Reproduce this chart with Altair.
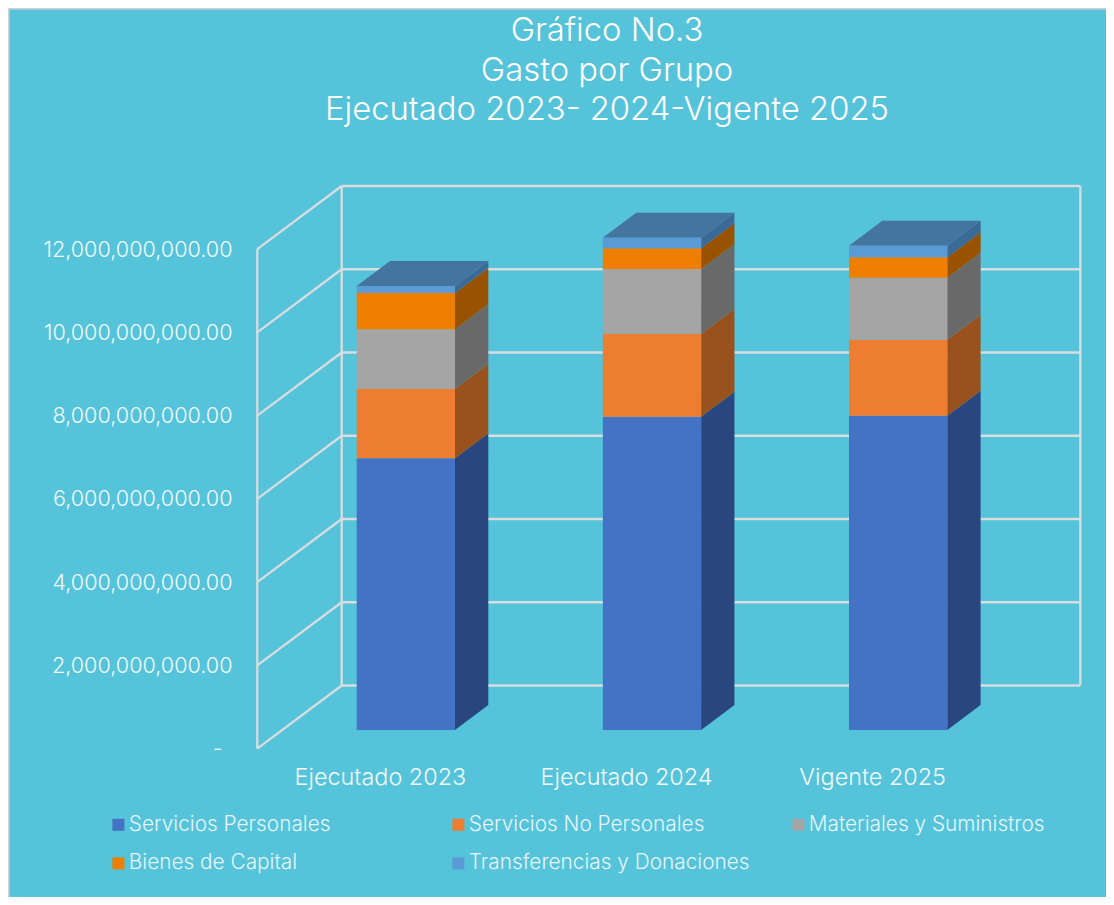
import altair as alt
import pandas as pd

# Data
categories = ["Ejecutado 2023", "Ejecutado 2024", "Vigente 2025"]
series = ["Servicios Personales", "Servicios No Personales", "Materiales y Suministros",
          "Bienes de Capital", "Transferencias y Donaciones"]
servicios_personales = [6.527e9, 7.527e9, 7.551e9]
servicios_no_personales = [1.665e9, 1.994e9, 1.826e9]
materiales = [1.434e9, 1.554e9, 1.489e9]
bienes = [0.872e9, 0.497e9, 0.490e9]
transferencias = [0.168e9, 0.255e9, 0.279e9]
all_values = [servicios_personales, servicios_no_personales, materiales, bienes, transferencias]
ticks = [0, 2e9, 4e9, 6e9, 8e9, 10e9, 12e9]

front_colors = ["#4472C4", "#ED7D31", "#A5A5A5", "#EF7F00", "#5B9BD5"]
side_colors = ["#2A467F", "#99521D", "#696969", "#995200", "#3B6A96"]
top_color = "#44759F"
bg = "#55C3D9"
grid = "#D8DDE0"
font = "Inter"

# Chart geometry
W, H = 1098, 889
PX_PER_UNIT = 41.625 / 1e9
ORIGIN_Y = 748.7          # page y of value 0 on the front axis
CENTER0, STEP = 405.85, 246.15
ux = lambda px: px / STEP
uy = lambda px: px / PX_PER_UNIT
x_domain = [ux(8 - CENTER0), ux(8 + W - CENTER0)]
y_domain = [uy(ORIGIN_Y - (8 + H)), uy(ORIGIN_Y - 8)]
half_w = ux(49.15)
dx, dy = ux(33.3), uy(25)
base = uy(18.7)
wall_left, wall_back, wall_right = ux(257.3 - CENTER0), ux(341.7 - CENTER0), ux(1080.3 - CENTER0)
wall_dy = uy(63.2)

x_scale = alt.Scale(domain=x_domain, nice=False, zero=False)
y_scale = alt.Scale(domain=y_domain, nice=False, zero=False)

# Faces
front, side, top = [], [], []
for i, cat in enumerate(categories):
    y0 = base
    for s, vals, sc in zip(series, all_values, side_colors):
        y1 = y0 + vals[i]
        front.append(dict(serie=s, x=i - half_w, x2=i + half_w, y=y0, y2=y1))
        key = f"{cat}-{s}"
        side.append(dict(key=key, col=sc, x=i + half_w, y=y0, y2=y1))
        side.append(dict(key=key, col=sc, x=i + half_w + dx, y=y0 + dy, y2=y1 + dy))
        y0 = y1
    top.append(dict(key=cat, x=i - half_w, x2=i + half_w, y=y0))
    top.append(dict(key=cat, x=i - half_w + dx, x2=i + half_w + dx, y=y0 + dy))

# Walls
lines = []
def seg(name, x1, y1, x2, y2):
    lines.append(dict(key=name, o=0, x=x1, y=y1))
    lines.append(dict(key=name, o=1, x=x2, y=y2))
for t in ticks:
    seg(f"side{t}", wall_left, t, wall_back, t + wall_dy)
    seg(f"back{t}", wall_back, t + wall_dy, wall_right, t + wall_dy)
seg("v1", wall_left, ticks[0], wall_left, ticks[-1])
seg("v2", wall_back, ticks[0] + wall_dy, wall_back, ticks[-1] + wall_dy)
seg("v3", wall_right, ticks[0] + wall_dy, wall_right, ticks[-1] + wall_dy)

# Outer frame
frame = []
frame.append(dict(key="l", o=0, x=x_domain[0], y=y_domain[0]))
frame.append(dict(key="l", o=1, x=x_domain[0], y=y_domain[1]))
frame.append(dict(key="t", o=0, x=x_domain[0], y=y_domain[1]))
frame.append(dict(key="t", o=1, x=x_domain[1], y=y_domain[1]))

X = alt.X("x:Q", scale=x_scale, axis=None)
Y = alt.Y("y:Q", scale=y_scale, stack=None, title=None,
          axis=alt.Axis(values=ticks, grid=False, domain=False, ticks=False, offset=-224,
                        labelPadding={"condition": {"test": "datum.value == 0", "value": 10}, "value": 0},
                        labelFont=font, labelFontSize=21.6, labelColor="#F2FBFD",
                        labelFontWeight=300, labelLimit=400, labelOverlap=False, labelOffset=1,
                        labelExpr="datum.value == 0 ? '-' : format(datum.value, ',.2f')"))

frame_layer = alt.Chart(pd.DataFrame(frame)).mark_line(stroke="#D0D2D2", strokeWidth=3).encode(
    x=X, y=Y, detail="key:N", order="o:Q")
wall_layer = alt.Chart(pd.DataFrame(lines)).mark_line(stroke=grid, strokeWidth=2.3).encode(
    x=X, y=Y, detail="key:N", order="o:Q")
front_layer = alt.Chart(pd.DataFrame(front)).mark_rect().encode(
    x=X, x2="x2:Q", y=Y, y2="y2:Q",
    color=alt.Color("serie:N", scale=alt.Scale(domain=series, range=front_colors), sort=series,
                    legend=alt.Legend(title=None, orient="none", legendX=100, legendY=806,
                                      columns=3, direction="horizontal", gridAlign="all",
                                      columnPadding=38, rowPadding=17, padding=0,
                                      symbolType="square", symbolSize=144, symbolStrokeWidth=0,
                                      labelFont=font, labelFontSize=20.8, labelFontWeight=300,
                                      labelColor="#E6F6FA", labelOffset=0, labelLimit=400)))
side_layer = alt.Chart(pd.DataFrame(side)).mark_area(orient="vertical").encode(
    x=X, y=Y, y2="y2:Q", detail="key:N", fill=alt.Fill("col:N", scale=None))
top_layer = alt.Chart(pd.DataFrame(top)).mark_area(orient="horizontal", color=top_color).encode(
    x=X, x2="x2:Q", y=Y, detail="key:N")
cat_df = pd.DataFrame({"cat": categories, "x": [i + ux(-25.5) for i in range(3)], "y": [uy(748.7 - 778)] * 3})
cat_layer = alt.Chart(cat_df).mark_text(font=font, fontSize=23.4, fontWeight=300, color="#F2FBFD",
                                        baseline="middle", align="center").encode(
    x=X, y=Y, text="cat:N")

chart = alt.layer(frame_layer, wall_layer, side_layer, top_layer, front_layer, cat_layer).properties(
    width=W, height=H,
    background=bg,
    padding=0,
    autosize=alt.AutoSizeParams(type="none"),
    title=alt.TitleParams(text=["Gráfico No.3", "Gasto por Grupo", "Ejecutado 2023- 2024-Vigente 2025"],
                          font=font, fontSize=32.8, fontWeight=300, color="#FFFFFF", lineHeight=39.5,
                          anchor="middle", frame="group", dx=50, offset=-125),
).configure_view(stroke=None)

chart.save("out.html", embed_options={"renderer": "svg", "actions": False})
